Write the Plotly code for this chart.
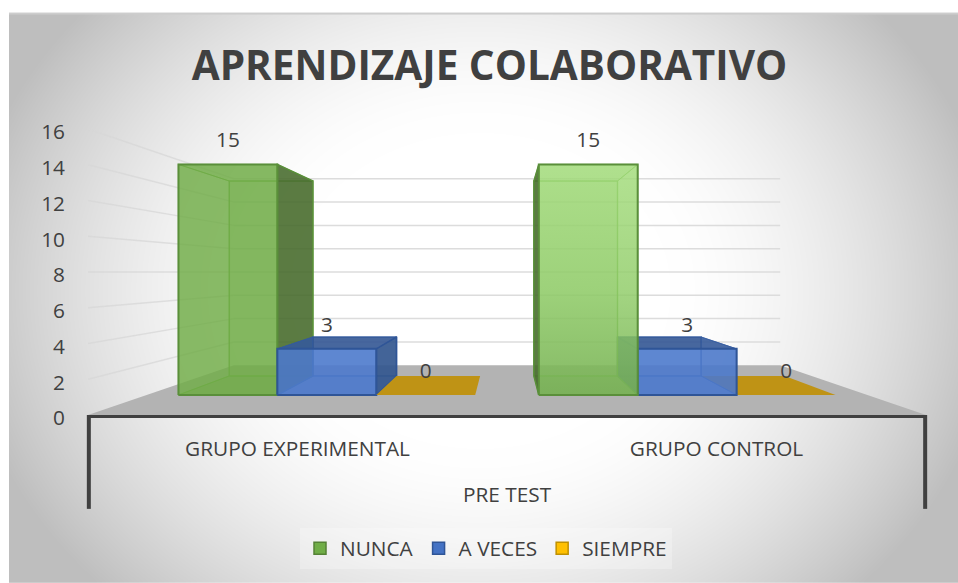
import base64, struct, zlib
import numpy as np
import plotly.graph_objects as go

# ---- data ----
TITLE = "APRENDIZAJE COLABORATIVO"
GROUP_TITLE = "PRE TEST"
categories = ["GRUPO EXPERIMENTAL", "GRUPO CONTROL"]
nunca = [15, 15]
a_veces = [3, 3]
siempre = [0, 0]
y_ticks = [0, 2, 4, 6, 8, 10, 12, 14, 16]

series = [("NUNCA", nunca), ("A VECES", a_veces), ("SIEMPRE", siempre)]
FONT = "Open Sans"
TXT = "#404040"
FS = 20.8

# ---- perspective model (Excel 3-D column look) ----
W, H_PX = 958, 583
L, R, T, B = 88, 926, 128.6, 415
HORIZON = 8.0       # value at which the eye sits
S_FRONT, S_BACK, S_WALL = 0.86, 0.727, 0.652   # depth scale of bar front, bar back, back wall
BAR_W = 0.2745
CENTRES = [-0.5, 0.5]


def P(X, v, s):
    return X * s, HORIZON + (v - HORIZON) * s


def poly(pts, fill, line=None, lw=1.5, gradient=None):
    xs = [p[0] for p in pts] + [pts[0][0]]
    ys = [p[1] for p in pts] + [pts[0][1]]
    kw = dict(fillgradient=gradient) if gradient else dict(fillcolor=fill)
    return go.Scatter(x=xs, y=ys, mode="lines", fill="toself",
                      line=dict(color=line or "rgba(0,0,0,0)", width=lw if line else 0),
                      hoverinfo="skip", showlegend=False, **kw)


def box_faces(x0, x1, v, pal, outer_left, gradient=None):
    """Faces of one column, drawn back to front."""
    f = []
    edge, lw = pal["edge"], 1.5
    if v == 0:
        f.append(poly([P(x0, 0, S_FRONT), P(x1, 0, S_FRONT), P(x1, 0, S_BACK), P(x0, 0, S_BACK)],
                      pal["bottom"]))
        return f
    f.append(poly([P(x0, 0, S_BACK), P(x1, 0, S_BACK), P(x1, v, S_BACK), P(x0, v, S_BACK)],
                  pal["back"], pal["inner"], lw))
    f.append(poly([P(x0, 0, S_FRONT), P(x1, 0, S_FRONT), P(x1, 0, S_BACK), P(x0, 0, S_BACK)],
                  pal["bottom"], pal["inner"], 1))
    f.append(poly([P(x0, v, S_FRONT), P(x1, v, S_FRONT), P(x1, v, S_BACK), P(x0, v, S_BACK)],
                  pal["top"], pal["inner"], 1))
    xd, xl = (x1, x0) if outer_left else (x0, x1)
    f.append(poly([P(xl, 0, S_FRONT), P(xl, v, S_FRONT), P(xl, v, S_BACK), P(xl, 0, S_BACK)],
                  pal["light"], pal["inner"], 1))
    f.append(poly([P(xd, 0, S_FRONT), P(xd, v, S_FRONT), P(xd, v, S_BACK), P(xd, 0, S_BACK)],
                  pal["dark"], edge, lw))
    f.append(poly([P(x0, 0, S_FRONT), P(x1, 0, S_FRONT), P(x1, v, S_FRONT), P(x0, v, S_FRONT)],
                  pal["front"], edge, 2, gradient))
    return f


palettes = [
    dict(front="rgba(112,173,71,0.8)", back="rgba(112,173,71,0.35)", bottom="rgba(100,160,60,0.45)",
         top="rgba(112,173,71,0.25)", light="rgba(112,173,71,0.15)", dark="rgba(70,105,45,0.85)",
         edge="#5a8f3a", inner="rgba(100,165,60,0.7)"),
    dict(front="rgba(78,122,205,0.85)", back="rgba(68,114,196,0.35)", bottom="rgba(68,114,196,0.45)",
         top="rgba(50,85,145,0.85)", light="rgba(60,100,170,0.35)", dark="rgba(50,85,140,0.88)",
         edge="#2f5597", inner="rgba(50,90,160,0.7)"),
    dict(front="", back="", bottom="#bf9315", top="", light="", dark="", edge="", inner=""),
]

# ---- background gradient as image ----
bw, bh = W - 9, H_PX - 12
xx, yy = np.meshgrid((np.arange(bw) + 9 - 480) / 475, (np.arange(bh) + 12 - 290) / 280)
r = np.sqrt(xx ** 2 + 0.5 * yy ** 2)
g = 255 - 65 * np.clip((r - 0.4) / 0.7, 0, 1) ** 1.6
g[:2, :] = 205
img = g.astype(np.uint8)


def png_uri(a):
    def chunk(t, d):
        return struct.pack(">I", len(d)) + t + d + struct.pack(">I", zlib.crc32(t + d) & 0xffffffff)
    raw = b"".join(b"\x00" + row.tobytes() for row in a)
    data = b"\x89PNG\r\n\x1a\n" + chunk(b"IHDR", struct.pack(">IIBBBBB", a.shape[1], a.shape[0], 8, 0, 0, 0, 0)) \
        + chunk(b"IDAT", zlib.compress(raw, 9)) + chunk(b"IEND", b"")
    return "data:image/png;base64," + base64.b64encode(data).decode()


px_w, px_h = R - L, B - T
fig = go.Figure()

# floor
fig.add_trace(poly([P(-1, 0, 1), P(1, 0, 1), P(1, 0, S_WALL), P(-1, 0, S_WALL)], "#b3b3b3"))
# wall gridlines
for v in y_ticks[1:]:
    a, b = P(-1, v, 1), P(-1, v, S_WALL)
    c = P(1, v, S_WALL)
    fig.add_trace(go.Scatter(x=[a[0], b[0]], y=[a[1], b[1]], mode="lines",
                             line=dict(color="rgba(215,215,215,0.75)", width=1.5), hoverinfo="skip", showlegend=False))
    fig.add_trace(go.Scatter(x=[b[0], c[0]], y=[b[1], c[1]], mode="lines",
                             line=dict(color="#dcdcdc", width=1.5), hoverinfo="skip", showlegend=False))

# columns
grad = dict(type="vertical", colorscale=[[0, "rgba(120,178,85,0.85)"], [0.45, "rgba(145,205,105,0.8)"],
                                         [1, "rgba(165,222,125,0.8)"]])
for g_i, c in enumerate(CENTRES):
    order = [0, 1, 2] if g_i == 0 else [2, 1, 0]
    for s_i in order:
        v = series[s_i][1][g_i]
        x0 = c + (s_i - 1.5) * BAR_W
        use_grad = grad if (g_i == 1 and s_i == 0) else None
        for tr in box_faces(x0, x0 + BAR_W, v, palettes[s_i], outer_left=(g_i == 0), gradient=use_grad):
            fig.add_trace(tr)

# data labels
LABEL_LIFT = 22.5 / 17.9
lx, ly, lt = [], [], []
for g_i, c in enumerate(CENTRES):
    for s_i, (_, vals) in enumerate(series):
        xm = c + (s_i - 1) * BAR_W
        px, py = P(xm, vals[g_i], S_FRONT)
        lx.append(px); ly.append(py + LABEL_LIFT); lt.append(str(vals[g_i]))
fig.add_trace(go.Scatter(x=lx, y=ly, text=lt, mode="text", textposition="middle center",
                         textfont=dict(family=FONT, size=FS, color=TXT), hoverinfo="skip",
                         showlegend=False))

# legend entries
for (name, _), col, edge in zip(series, ["#70ad47", "#4472c4", "#ffc000"], ["#548235", "#2f5597", "#bf9000"]):
    fig.add_trace(go.Bar(x=[None], y=[None], name=name, marker=dict(color=col, line=dict(color=edge, width=1.5))))

fig.update_layout(
    width=W, height=H_PX, autosize=False,
    margin=dict(l=L, r=W - R, t=T, b=H_PX - B, pad=0),
    paper_bgcolor="white", plot_bgcolor="rgba(0,0,0,0)",
    title=dict(text=f"<b>{TITLE}</b>", x=489.5 / W, y=1 - 66 / H_PX, xanchor="center", yanchor="middle",
               xref="container", yref="container", font=dict(family=FONT, size=40.5, color=TXT)),
    xaxis=dict(range=[-1, 1], tickmode="array", tickvals=CENTRES, ticktext=categories, ticks="",
               showgrid=False, zeroline=False, showline=True, linecolor="#404040", linewidth=3,
               ticklabelstandoff=13, tickfont=dict(family=FONT, size=FS, color=TXT)),
    yaxis=dict(range=[0, 16], tickmode="array", tickvals=y_ticks, ticks="", showgrid=False,
               zeroline=False, showline=False, ticklabelstandoff=22, ticklabelshift=3,
               tickfont=dict(family=FONT, size=FS, color=TXT)),
    legend=dict(orientation="h", x=(486 - L) / px_w, y=-(549 - B) / px_h, xanchor="center", yanchor="middle",
                bgcolor="rgba(255,255,255,0.25)", font=dict(family=FONT, size=FS, color=TXT),
                itemclick=False, itemdoubleclick=False),
    images=[dict(source=png_uri(img), xref="paper", yref="paper", x=(9 - L) / px_w, y=(B - 12) / px_h,
                 sizex=bw / px_w, sizey=bh / px_h, sizing="stretch", xanchor="left", yanchor="top", layer="below")],
    annotations=[dict(text=GROUP_TITLE, xref="x", yref="paper", x=0, y=-(494 - B) / px_h, showarrow=False,
                      xanchor="center", yanchor="middle", font=dict(family=FONT, size=FS, color=TXT))],
    shapes=[dict(type="line", xref="paper", yref="paper", x0=xp, x1=xp, y0=0, y1=-(509 - B) / px_h,
                 line=dict(color="#404040", width=4)) for xp in (0.001, 0.999)],
)
fig.write_html("out.html", config=dict(displayModeBar=False),
               post_script="document.documentElement.style.overflow='hidden';document.body.style.margin='0';")
